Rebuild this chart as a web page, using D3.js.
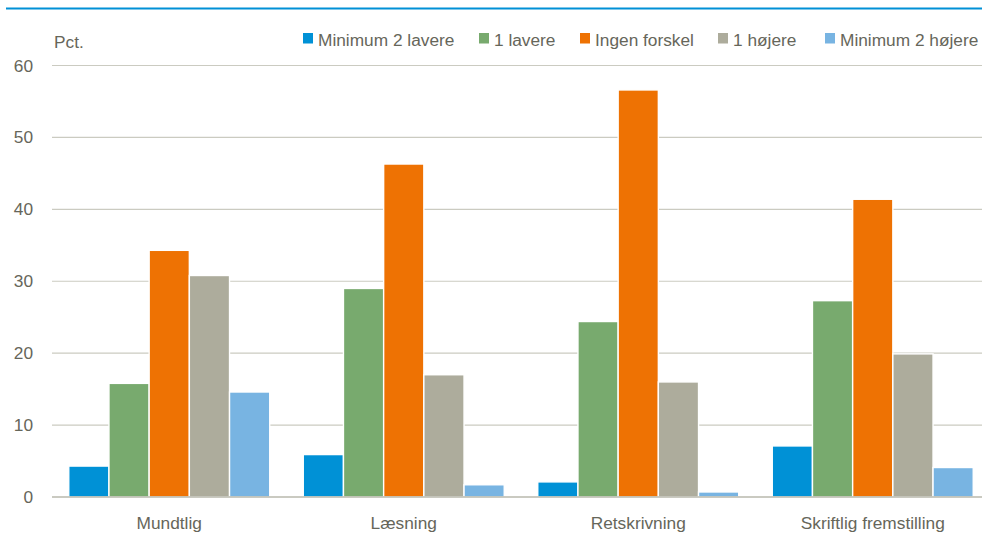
<!DOCTYPE html>
<html>
<head>
<meta charset="utf-8">
<script src="https://cdn.jsdelivr.net/npm/d3@7"></script>
<style>
  body { margin: 0; background: #fff; }
  svg { display: block; font-family: "Liberation Sans", Arial, sans-serif; }
</style>
</head>
<body>
<svg id="chart" width="982" height="535"></svg>
<script>
// data
const categories = ['Mundtlig', 'Læsning', 'Retskrivning', 'Skriftlig fremstilling'];
const series_names = ['Minimum 2 lavere', '1 lavere', 'Ingen forskel', '1 højere', 'Minimum 2 højere'];
const series_colors = ['#0091d6', '#78aa6e', '#ee7203', '#adac9c', '#78b4e2'];
const min2_lower = [4.3, 5.9, 2.1, 7.1];
const one_lower = [15.8, 29.0, 24.4, 27.3];
const no_diff = [34.3, 46.3, 56.6, 41.4];
const one_higher = [30.8, 17.0, 16.0, 19.9];
const min2_higher = [14.6, 1.7, 0.7, 4.1];
const y_ticks = [0, 10, 20, 30, 40, 50, 60];
const legend_x = [303, 479, 580, 718, 825];

const series_values = [min2_lower, one_lower, no_diff, one_higher, min2_higher];
const text_color = '#66665a';
const font_size = '17.3px';

const svg = d3.select('#chart');
const margin = {left: 52, right: -8, top: 65.5, bottom: 38};
const width = 982;
const height = 535;

const x0 = d3.scaleBand()
    .domain(categories)
    .range([margin.left, width - margin.right])
    .paddingInner(0.143)
    .paddingOuter(0.0715);
const x1 = d3.scaleBand()
    .domain(series_names)
    .range([0, x0.bandwidth()]);
const y = d3.scaleLinear()
    .domain([0, 60])
    .range([height - margin.bottom, margin.top]);

// top rule
svg.append('line')
    .attr('x1', 6).attr('x2', width)
    .attr('y1', 8.5).attr('y2', 8.5)
    .attr('stroke', '#0090d6').attr('stroke-width', 2.2);

// gridlines
svg.append('g')
    .selectAll('line')
    .data(y_ticks.filter(t => t > 0))
    .join('line')
    .attr('x1', margin.left).attr('x2', width)
    .attr('y1', d => y(d)).attr('y2', d => y(d))
    .attr('stroke', '#cbcbc1').attr('stroke-width', 1.2);

// y axis labels
const y_axis = svg.append('g')
    .attr('transform', 'translate(' + (margin.left - 19) + ',0)')
    .call(d3.axisLeft(y).tickValues(y_ticks).tickSize(0).tickPadding(0));
y_axis.select('.domain').remove();
y_axis.selectAll('text')
    .attr('fill', text_color)
    .style('font-size', font_size)
    .style('font-family', '"Liberation Sans", Arial, sans-serif');

svg.append('text')
    .attr('x', 54).attr('y', 48)
    .attr('fill', text_color)
    .style('font-size', font_size)
    .text('Pct.');

// bars
const groups = svg.append('g')
    .selectAll('g')
    .data(categories)
    .join('g')
    .attr('transform', d => 'translate(' + x0(d) + ',0)');

groups.selectAll('rect')
    .data((d, i) => series_names.map((s, j) => ({series: s, value: series_values[j][i], color: series_colors[j]})))
    .join('rect')
    .attr('x', d => x1(d.series))
    .attr('width', x1.bandwidth())
    .attr('y', d => y(d.value))
    .attr('height', d => y(0) - y(d.value))
    .attr('fill', d => d.color)
    .attr('stroke', '#fff')
    .attr('stroke-width', 1.4);

// zero line
svg.append('line')
    .attr('x1', margin.left).attr('x2', width)
    .attr('y1', y(0)).attr('y2', y(0))
    .attr('stroke', '#b8b8ac').attr('stroke-width', 1.5);

// x axis labels
const x_axis = svg.append('g')
    .attr('transform', 'translate(0,' + (y(0) + 32) + ')')
    .call(d3.axisBottom(x0).tickSize(0).tickPadding(0));
x_axis.select('.domain').remove();
x_axis.selectAll('text')
    .attr('dy', null)
    .attr('y', 0)
    .attr('fill', text_color)
    .style('font-size', font_size)
    .style('font-family', '"Liberation Sans", Arial, sans-serif');

// legend
const legend = svg.append('g')
    .selectAll('g')
    .data(series_names)
    .join('g')
    .attr('transform', (d, i) => 'translate(' + legend_x[i] + ',33)');
legend.append('rect')
    .attr('width', 10).attr('height', 10.5)
    .attr('fill', (d, i) => series_colors[i]);
legend.append('text')
    .attr('x', 15).attr('y', 12.5)
    .attr('fill', text_color)
    .style('font-size', font_size)
    .text(d => d);
</script>
</body>
</html>
